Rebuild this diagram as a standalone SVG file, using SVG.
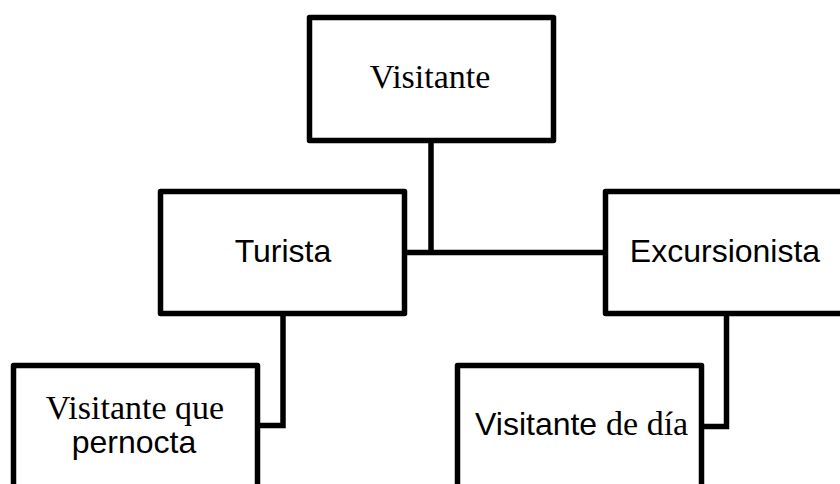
<svg xmlns="http://www.w3.org/2000/svg" width="840" height="484" viewBox="0 0 840 484">
  <style>
    .box { fill: #ffffff; stroke: #000000; stroke-width: 5.5; stroke-linejoin: round; }
    .conn { fill: none; stroke: #000000; stroke-width: 5.5; stroke-linejoin: miter; stroke-linecap: butt; }
    .serif { font-family: "Liberation Serif", "DejaVu Serif", serif; font-size: 34px; fill: #000000; }
    .sans { font-family: "Liberation Sans", Arial, sans-serif; font-size: 32px; fill: #000000; }
  </style>
  <rect width="840" height="484" fill="#ffffff"/>
  <g id="connectors">
    <path class="conn" d="M431,142 V252.5 M405,252.5 H606"/>
    <path class="conn" d="M283,315 V425.5 H258"/>
    <path class="conn" d="M726.5,315 V426.5 H702"/>
  </g>
  <g id="visitante">
    <rect class="box" x="309.5" y="17.5" width="244" height="123"/>
    <text class="serif" x="430" y="88" text-anchor="middle">Visitante</text>
  </g>
  <g id="turista">
    <rect class="box" x="160.5" y="191.5" width="244" height="122"/>
    <text class="sans" x="283" y="262" text-anchor="middle">Turista</text>
  </g>
  <g id="excursionista">
    <rect class="box" x="605.5" y="191.5" width="250" height="122"/>
    <text class="sans" x="725" y="262" text-anchor="middle">Excursionista</text>
  </g>
  <g id="visitante-que-pernocta">
    <rect class="box" x="13.5" y="365.5" width="244" height="140"/>
    <text class="serif" x="135" y="419" text-anchor="middle">Visitante que</text>
    <text class="sans" x="134" y="453" text-anchor="middle">pernocta</text>
  </g>
  <g id="visitante-de-dia">
    <rect class="box" x="457.5" y="365.5" width="244" height="140"/>
    <text x="475" y="435"><tspan class="sans">Visitante </tspan><tspan class="serif">de día</tspan></text>
  </g>
</svg>
